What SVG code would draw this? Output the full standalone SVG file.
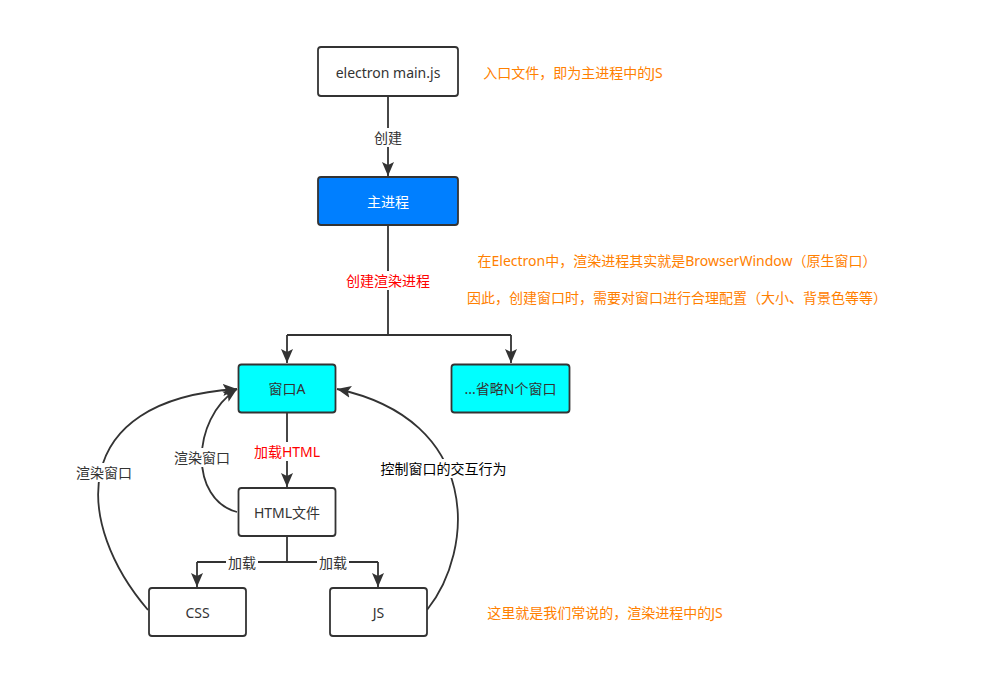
<svg xmlns="http://www.w3.org/2000/svg" width="982" height="698" viewBox="0 0 982 698">
<defs>
<marker id="arr" markerUnits="userSpaceOnUse" markerWidth="16" markerHeight="14" viewBox="0 0 16 14" refX="14" refY="7" orient="auto">
<path d="M0,1 L14,7 L0,13 L3,7 Z" fill="#333333"/>
</marker>
<style>
.box{stroke:#333333;stroke-width:1.8;}
.w{fill:#ffffff;}
.c{fill:#00ffff;}
.b{fill:#007fff;}
.t{font-family:"Noto Sans","Noto Sans CJK SC",sans-serif;font-size:14px;fill:#333333;text-anchor:middle;dominant-baseline:central;}
.lbl{font-family:"Noto Sans","Noto Sans CJK SC",sans-serif;font-size:14px;text-anchor:middle;dominant-baseline:central;}
.dark{fill:#333333;}
.red{fill:#ff0000;}
.or{fill:#ff8000;}
.ln{fill:none;stroke:#333333;stroke-width:1.8;}
.bg{fill:#ffffff;}
</style>
</defs>
<rect width="982" height="698" fill="#ffffff"/>
<g id="connectors">
<path class="ln" d="M388,96 L388,176" marker-end="url(#arr)"/>
<path class="ln" d="M388,225 L388,335 M287,335 L511,335"/>
<path class="ln" d="M287,335 L287,363" marker-end="url(#arr)"/>
<path class="ln" d="M511,335 L511,363" marker-end="url(#arr)"/>
<path class="ln" d="M287,412 L287,487" marker-end="url(#arr)"/>
<path class="ln" d="M287,536 L287,562 M197,562 L378,562"/>
<path class="ln" d="M197,562 L197,587" marker-end="url(#arr)"/>
<path class="ln" d="M378,562 L378,587" marker-end="url(#arr)"/>
<path class="ln" d="M148,610 C75,525 65,400 237,389" marker-end="url(#arr)"/>
<path class="ln" d="M237,512 C190,500 190,420 237,389" marker-end="url(#arr)"/>
<path class="ln" d="M427,610 C475,550 482,420 337,389" marker-end="url(#arr)"/>
<rect class="bg" x="372" y="128" width="32" height="19"/>
<text class="lbl dark" x="388" y="137">创建</text>
<rect class="bg" x="346" y="271" width="84" height="19"/>
<text class="lbl red" x="388" y="280">创建渲染进程</text>
<rect class="bg" x="251" y="442" width="72" height="19"/>
<text class="lbl red" x="287" y="451">加载HTML</text>
<rect class="bg" x="226" y="553" width="32" height="19"/>
<text class="lbl dark" x="242" y="562">加载</text>
<rect class="bg" x="317" y="553" width="32" height="19"/>
<text class="lbl dark" x="333" y="562">加载</text>
<rect class="bg" x="76" y="463" width="56" height="19"/>
<text class="lbl dark" x="104" y="472">渲染窗口</text>
<rect class="bg" x="174" y="448" width="56" height="19"/>
<text class="lbl dark" x="202" y="457">渲染窗口</text>
<rect class="bg" x="380" y="459" width="127" height="19"/>
<text class="lbl" fill="#000000" x="443.5" y="468">控制窗口的交互行为</text>
</g>
<g id="node-main">
<rect class="box w" x="318" y="47" width="140" height="49" rx="3"/>
<text class="t" x="388" y="72">electron main.js</text>
</g>
<g id="node-mainprocess">
<rect class="box b" x="318" y="177" width="140" height="48" rx="3"/>
<text class="t" x="388" y="201" fill="#ffffff" style="fill:#ffffff">主进程</text>
</g>
<g id="node-windowA">
<rect class="box c" x="238.5" y="364.5" width="97" height="48" rx="3"/>
<text class="t" x="287" y="388">窗口A</text>
</g>
<g id="node-windowN">
<rect class="box c" x="451.5" y="364.5" width="118" height="48" rx="3"/>
<text class="t" x="510.5" y="388">...省略N个窗口</text>
</g>
<g id="node-html">
<rect class="box w" x="238.5" y="488" width="97" height="48" rx="3"/>
<text class="t" x="287" y="512">HTML文件</text>
</g>
<g id="node-css">
<rect class="box w" x="149" y="588" width="97" height="48" rx="3"/>
<text class="t" x="197.5" y="612">CSS</text>
</g>
<g id="node-js">
<rect class="box w" x="330" y="588" width="97" height="48" rx="3"/>
<text class="t" x="378.5" y="612">JS</text>
</g>
<g id="notes">
<text class="lbl or" x="573" y="72">入口文件，即为主进程中的JS</text>
<text class="lbl or" x="677" y="260">在Electron中，渲染进程其实就是BrowserWindow（原生窗口）</text>
<text class="lbl or" x="677" y="297">因此，创建窗口时，需要对窗口进行合理配置（大小、背景色等等）</text>
<text class="lbl or" x="605" y="612">这里就是我们常说的，渲染进程中的JS</text>
</g>
</svg>
